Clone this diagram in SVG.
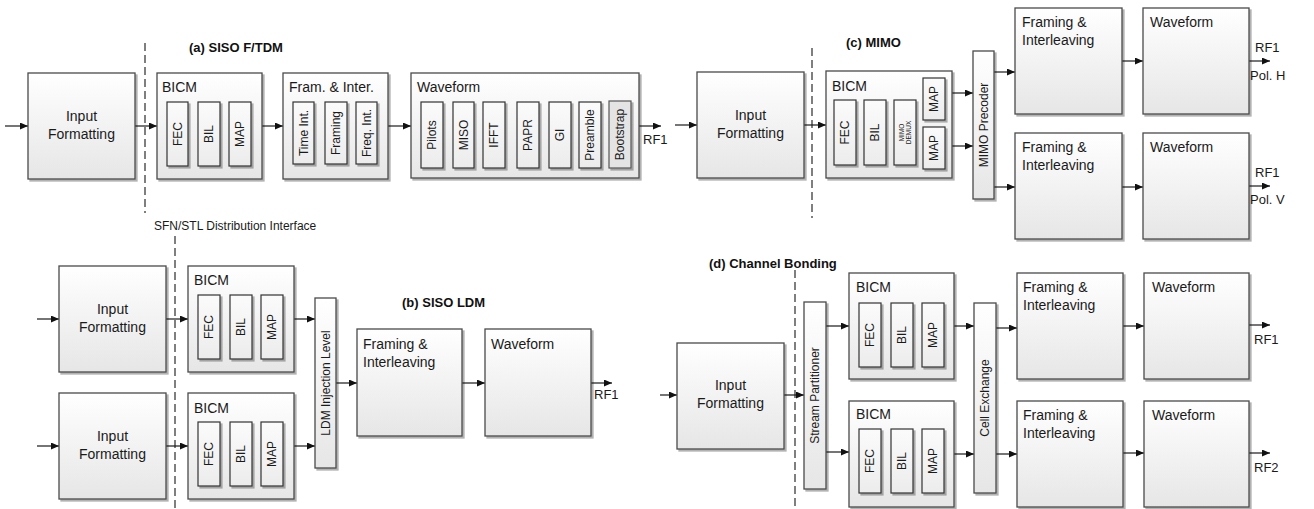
<svg xmlns="http://www.w3.org/2000/svg" width="1314" height="509" viewBox="0 0 1314 509">
<defs>
<linearGradient id="g" x1="0" y1="0" x2="0" y2="1"><stop offset="0" stop-color="#ffffff"/><stop offset="1" stop-color="#e6e6e6"/></linearGradient>
<linearGradient id="g2" x1="0" y1="0" x2="0" y2="1"><stop offset="0" stop-color="#fbfbfb"/><stop offset="1" stop-color="#ececec"/></linearGradient>
<filter id="sh" x="-10%" y="-10%" width="130%" height="130%"><feDropShadow dx="2" dy="2" stdDeviation="0.7" flood-color="#000" flood-opacity="0.3"/></filter>
<marker id="ar" markerUnits="userSpaceOnUse" markerWidth="8" markerHeight="7" refX="8" refY="3.5" orient="auto"><path d="M0,0 L8,3.5 L0,7 z" fill="#111"/></marker>
<style>
.box{fill:url(#g);stroke:#4a4a4a;stroke-width:1.3;filter:url(#sh)}
.sub{fill:url(#g2);stroke:#333;stroke-width:1.2;filter:url(#sh)}
.dk{fill:#e4e4e4;stroke:#555}
.t{font-family:"Liberation Sans",Arial,sans-serif;font-size:14px;fill:#1a1a1a}
.c{text-anchor:middle}
.s{font-family:"Liberation Sans",Arial,sans-serif;font-size:12px;fill:#1a1a1a}
.v{font-family:"Liberation Sans",Arial,sans-serif;font-size:12px;fill:#1a1a1a;text-anchor:middle;dominant-baseline:central}
.tiny{font-family:"Liberation Sans",Arial,sans-serif;font-size:6.5px;fill:#1a1a1a;text-anchor:middle;dominant-baseline:central}
.ti{font-family:"Liberation Sans",Arial,sans-serif;font-size:13px;font-weight:bold;fill:#111}
.rf{font-family:"Liberation Sans",Arial,sans-serif;font-size:13px;fill:#1a1a1a}
.ln{stroke:#1a1a1a;stroke-width:1.2;fill:none;marker-end:url(#ar)}
.ds{stroke:#555;stroke-width:1.5;stroke-dasharray:8,4;fill:none}
</style>
</defs>
<rect width="1314" height="509" fill="#ffffff"/>

<g id="titles">
<text class="ti" x="189" y="52">(a) SISO F/TDM</text>
<text class="ti" x="402" y="307">(b) SISO LDM</text>
<text class="ti" x="846" y="47">(c) MIMO</text>
<text class="ti" x="709" y="268">(d) Channel Bonding</text>
</g>

<g id="interface">
<line class="ds" x1="145" y1="43" x2="145" y2="213"/>
<text class="s" x="154" y="230">SFN/STL Distribution Interface</text>
<line class="ds" x1="175" y1="236" x2="175" y2="509"/>
<line class="ds" x1="812" y1="48" x2="812" y2="218"/>
<line class="ds" x1="795" y1="270" x2="795" y2="509"/>
</g>

<g id="connectors">
<!-- (a) -->
<line class="ln" x1="5" y1="126" x2="28" y2="126"/>
<line class="ln" x1="135" y1="126" x2="157" y2="126"/>
<line class="ln" x1="262" y1="126" x2="283" y2="126"/>
<line class="ln" x1="388" y1="126" x2="411" y2="126"/>
<line class="ln" x1="639" y1="126" x2="661" y2="126"/>
<!-- (c) -->
<line class="ln" x1="675" y1="125" x2="697" y2="125"/>
<line class="ln" x1="804" y1="125" x2="826" y2="125"/>
<line class="ln" x1="952" y1="93" x2="973" y2="93"/>
<line class="ln" x1="952" y1="146" x2="973" y2="146"/>
<line class="ln" x1="994" y1="72" x2="1015" y2="72"/>
<line class="ln" x1="994" y1="187" x2="1015" y2="187"/>
<line class="ln" x1="1122" y1="61" x2="1143" y2="61"/>
<line class="ln" x1="1122" y1="187" x2="1143" y2="187"/>
<line class="ln" x1="1249" y1="61" x2="1270" y2="61"/>
<line class="ln" x1="1249" y1="186" x2="1270" y2="186"/>
<!-- (b) -->
<line class="ln" x1="37" y1="319" x2="59" y2="319"/>
<line class="ln" x1="166" y1="319" x2="188" y2="319"/>
<line class="ln" x1="294" y1="319" x2="315" y2="319"/>
<line class="ln" x1="37" y1="446" x2="59" y2="446"/>
<line class="ln" x1="166" y1="446" x2="188" y2="446"/>
<line class="ln" x1="294" y1="446" x2="315" y2="446"/>
<line class="ln" x1="336" y1="383" x2="357" y2="383"/>
<line class="ln" x1="462" y1="383" x2="485" y2="383"/>
<line class="ln" x1="591" y1="383" x2="612" y2="383"/>
<!-- (d) -->
<line class="ln" x1="660" y1="395" x2="677" y2="395"/>
<line class="ln" x1="784" y1="395" x2="804" y2="395"/>
<line class="ln" x1="826" y1="326" x2="849" y2="326"/>
<line class="ln" x1="826" y1="452" x2="849" y2="452"/>
<line class="ln" x1="954" y1="326" x2="974" y2="326"/>
<line class="ln" x1="954" y1="454" x2="974" y2="454"/>
<line class="ln" x1="996" y1="328" x2="1017" y2="328"/>
<line class="ln" x1="996" y1="454" x2="1017" y2="454"/>
<line class="ln" x1="1123" y1="326" x2="1144" y2="326"/>
<line class="ln" x1="1123" y1="453" x2="1144" y2="453"/>
<line class="ln" x1="1249" y1="325" x2="1270" y2="325"/>
<line class="ln" x1="1249" y1="453" x2="1270" y2="453"/>
</g>

<g id="labels-rf">
<text class="rf" x="643" y="144">RF1</text>
<text class="rf" x="1255" y="52">RF1</text>
<text class="rf" x="1250" y="80">Pol. H</text>
<text class="rf" x="1255" y="177">RF1</text>
<text class="rf" x="1250" y="204">Pol. V</text>
<text class="rf" x="594" y="399">RF1</text>
<text class="rf" x="1254" y="344">RF1</text>
<text class="rf" x="1254" y="472">RF2</text>
</g>

<!-- (a) SISO F/TDM -->
<g id="a-input">
<rect class="box" x="28" y="73" width="107" height="106"/>
<text class="t c" x="81.5" y="121">Input</text>
<text class="t c" x="81.5" y="139">Formatting</text>
</g>
<g id="a-bicm">
<rect class="box" x="157" y="73" width="105" height="106"/>
<text class="t" x="162" y="92">BICM</text>
<rect class="sub" x="167" y="102" width="21" height="64"/><text class="v" transform="translate(177.5,134) rotate(-90)">FEC</text>
<rect class="sub" x="198" y="102" width="22" height="64"/><text class="v" transform="translate(209,134) rotate(-90)">BIL</text>
<rect class="sub" x="229" y="102" width="22" height="64"/><text class="v" transform="translate(240,134) rotate(-90)">MAP</text>
</g>
<g id="a-framing">
<rect class="box" x="283" y="73" width="105" height="106"/>
<text class="t" x="289" y="92">Fram. &amp; Inter.</text>
<rect class="sub" x="293" y="102" width="21" height="62"/><text class="v" transform="translate(303.5,133) rotate(-90)">Time Int.</text>
<rect class="sub" x="325" y="102" width="22" height="62"/><text class="v" transform="translate(336,133) rotate(-90)">Framing</text>
<rect class="sub" x="356" y="102" width="21" height="62"/><text class="v" transform="translate(366.5,133) rotate(-90)">Freq. Int.</text>
</g>
<g id="a-waveform">
<rect class="box" x="411" y="73" width="228" height="105"/>
<text class="t" x="417" y="92">Waveform</text>
<rect class="sub" x="421" y="102" width="22" height="66"/><text class="v" transform="translate(432,135) rotate(-90)">Pilots</text>
<rect class="sub" x="453" y="102" width="21" height="66"/><text class="v" transform="translate(463.5,135) rotate(-90)">MISO</text>
<rect class="sub" x="483" y="102" width="22" height="66"/><text class="v" transform="translate(494,135) rotate(-90)">IFFT</text>
<rect class="sub" x="517" y="102" width="22" height="66"/><text class="v" transform="translate(528,135) rotate(-90)">PAPR</text>
<rect class="sub" x="549" y="102" width="22" height="66"/><text class="v" transform="translate(560,135) rotate(-90)">GI</text>
<rect class="sub" x="579" y="102" width="22" height="66"/><text class="v" transform="translate(590,135) rotate(-90)">Preamble</text>
<rect class="sub dk" x="609" y="101" width="22" height="67"/><text class="v" transform="translate(620,134.5) rotate(-90)">Bootstrap</text>
</g>

<!-- (c) MIMO -->
<g id="c-input">
<rect class="box" x="697" y="72" width="107" height="106"/>
<text class="t c" x="750.5" y="120">Input</text>
<text class="t c" x="750.5" y="138">Formatting</text>
</g>
<g id="c-bicm">
<rect class="box" x="826" y="71" width="126" height="107"/>
<text class="t" x="832" y="91">BICM</text>
<rect class="sub" x="834" y="100" width="22" height="65"/><text class="v" transform="translate(845,132.5) rotate(-90)">FEC</text>
<rect class="sub" x="864" y="100" width="22" height="65"/><text class="v" transform="translate(875,132.5) rotate(-90)">BIL</text>
<rect class="sub" x="894" y="100" width="22" height="65"/>
<text class="tiny" transform="translate(901.5,132.5) rotate(-90)">MIMO</text>
<text class="tiny" transform="translate(908.5,132.5) rotate(-90)">DEMUX</text>
<rect class="sub" x="923" y="78" width="22" height="42"/><text class="v" transform="translate(934,99) rotate(-90)">MAP</text>
<rect class="sub" x="923" y="127" width="22" height="42"/><text class="v" transform="translate(934,148) rotate(-90)">MAP</text>
</g>
<g id="c-precoder">
<rect class="box" x="973" y="51" width="21" height="148"/>
<text class="v" transform="translate(983.5,125) rotate(-90)">MIMO Precoder</text>
</g>
<g id="c-framing-h">
<rect class="box" x="1015" y="8" width="107" height="106"/>
<text class="t" x="1022" y="27">Framing &amp;</text>
<text class="t" x="1022" y="45">Interleaving</text>
</g>
<g id="c-waveform-h">
<rect class="box" x="1143" y="8" width="106" height="106"/>
<text class="t" x="1150" y="27">Waveform</text>
</g>
<g id="c-framing-v">
<rect class="box" x="1015" y="133" width="107" height="106"/>
<text class="t" x="1022" y="152">Framing &amp;</text>
<text class="t" x="1022" y="170">Interleaving</text>
</g>
<g id="c-waveform-v">
<rect class="box" x="1143" y="133" width="106" height="106"/>
<text class="t" x="1150" y="152">Waveform</text>
</g>

<!-- (b) SISO LDM -->
<g id="b-input-1">
<rect class="box" x="59" y="266" width="107" height="106"/>
<text class="t c" x="112.5" y="314">Input</text>
<text class="t c" x="112.5" y="332">Formatting</text>
</g>
<g id="b-bicm-1">
<rect class="box" x="188" y="266" width="106" height="106"/>
<text class="t" x="194" y="285">BICM</text>
<rect class="sub" x="198" y="295" width="22" height="64"/><text class="v" transform="translate(209,327) rotate(-90)">FEC</text>
<rect class="sub" x="230" y="295" width="22" height="64"/><text class="v" transform="translate(241,327) rotate(-90)">BIL</text>
<rect class="sub" x="261" y="295" width="22" height="64"/><text class="v" transform="translate(272,327) rotate(-90)">MAP</text>
</g>
<g id="b-input-2">
<rect class="box" x="59" y="393" width="107" height="106"/>
<text class="t c" x="112.5" y="441">Input</text>
<text class="t c" x="112.5" y="459">Formatting</text>
</g>
<g id="b-bicm-2">
<rect class="box" x="188" y="393" width="106" height="106"/>
<text class="t" x="194" y="413">BICM</text>
<rect class="sub" x="198" y="422" width="22" height="64"/><text class="v" transform="translate(209,454) rotate(-90)">FEC</text>
<rect class="sub" x="230" y="422" width="22" height="64"/><text class="v" transform="translate(241,454) rotate(-90)">BIL</text>
<rect class="sub" x="261" y="422" width="22" height="64"/><text class="v" transform="translate(272,454) rotate(-90)">MAP</text>
</g>
<g id="b-ldm">
<rect class="box" x="315" y="298" width="21" height="170"/>
<text class="v" transform="translate(325.5,383) rotate(-90)">LDM Injection Level</text>
</g>
<g id="b-framing">
<rect class="box" x="357" y="329" width="105" height="107"/>
<text class="t" x="363" y="349">Framing &amp;</text>
<text class="t" x="363" y="367">Interleaving</text>
</g>
<g id="b-waveform">
<rect class="box" x="485" y="329" width="106" height="107"/>
<text class="t" x="491" y="349">Waveform</text>
</g>

<!-- (d) Channel Bonding -->
<g id="d-input">
<rect class="box" x="677" y="343" width="107" height="106"/>
<text class="t c" x="730.5" y="390">Input</text>
<text class="t c" x="730.5" y="408">Formatting</text>
</g>
<g id="d-partitioner">
<rect class="box" x="804" y="302" width="22" height="187"/>
<text class="v" transform="translate(815,395.5) rotate(-90)">Stream Partitioner</text>
</g>
<g id="d-bicm-1">
<rect class="box" x="849" y="273" width="105" height="106"/>
<text class="t" x="856" y="292">BICM</text>
<rect class="sub" x="859" y="303" width="22" height="64"/><text class="v" transform="translate(870,335) rotate(-90)">FEC</text>
<rect class="sub" x="891" y="303" width="22" height="64"/><text class="v" transform="translate(902,335) rotate(-90)">BIL</text>
<rect class="sub" x="922" y="303" width="22" height="64"/><text class="v" transform="translate(933,335) rotate(-90)">MAP</text>
</g>
<g id="d-bicm-2">
<rect class="box" x="849" y="401" width="105" height="106"/>
<text class="t" x="856" y="419">BICM</text>
<rect class="sub" x="859" y="429" width="22" height="64"/><text class="v" transform="translate(870,461) rotate(-90)">FEC</text>
<rect class="sub" x="891" y="429" width="22" height="64"/><text class="v" transform="translate(902,461) rotate(-90)">BIL</text>
<rect class="sub" x="922" y="429" width="22" height="64"/><text class="v" transform="translate(933,461) rotate(-90)">MAP</text>
</g>
<g id="d-cell">
<rect class="box" x="974" y="303" width="22" height="190"/>
<text class="v" transform="translate(985,398) rotate(-90)">Cell Exchange</text>
</g>
<g id="d-framing-1">
<rect class="box" x="1017" y="273" width="106" height="106"/>
<text class="t" x="1023" y="292">Framing &amp;</text>
<text class="t" x="1023" y="310">Interleaving</text>
</g>
<g id="d-waveform-1">
<rect class="box" x="1144" y="273" width="105" height="106"/>
<text class="t" x="1152" y="292">Waveform</text>
</g>
<g id="d-framing-2">
<rect class="box" x="1017" y="401" width="106" height="106"/>
<text class="t" x="1023" y="420">Framing &amp;</text>
<text class="t" x="1023" y="438">Interleaving</text>
</g>
<g id="d-waveform-2">
<rect class="box" x="1144" y="401" width="105" height="106"/>
<text class="t" x="1152" y="420">Waveform</text>
</g>
</svg>
